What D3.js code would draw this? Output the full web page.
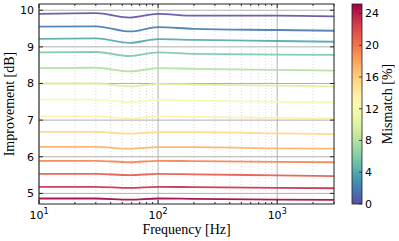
<!DOCTYPE html>
<html>
<head>
<meta charset="utf-8">
<script src="https://cdn.jsdelivr.net/npm/d3@7"></script>
<style>
  body { margin: 0; background: #fff; }
  svg { display: block; }
  .tick-label { font-family: "DejaVu Sans", sans-serif; font-size: 11px; fill: #000; }
  .axis-label { font-family: "Liberation Serif", "DejaVu Serif", serif; font-size: 14px; fill: #000; }
</style>
</head>
<body>
<div id="chart"></div>
<script>
// Data
let freqs = [10, 30, 58, 100, 200, 1000, 3000];
let mismatch = [0, 1.9, 3.9, 5.8, 7.8, 9.7, 11.6, 13.6, 15.5, 17.4, 19.4, 21.3, 23.3, 25.2];
let improvement = [
  [9.90, 9.92, 9.80, 9.90, 9.85, 9.85, 9.83],
  [9.55, 9.56, 9.42, 9.54, 9.49, 9.46, 9.44],
  [9.22, 9.23, 9.11, 9.21, 9.19, 9.16, 9.14],
  [8.85, 8.86, 8.75, 8.85, 8.81, 8.79, 8.78],
  [8.42, 8.43, 8.33, 8.42, 8.40, 8.37, 8.35],
  [8.00, 8.00, 7.92, 7.99, 7.97, 7.94, 7.92],
  [7.56, 7.56, 7.49, 7.55, 7.53, 7.50, 7.49],
  [7.10, 7.10, 7.05, 7.10, 7.09, 7.06, 7.05],
  [6.68, 6.68, 6.63, 6.67, 6.67, 6.64, 6.62],
  [6.27, 6.27, 6.22, 6.26, 6.26, 6.23, 6.22],
  [5.89, 5.89, 5.85, 5.89, 5.88, 5.86, 5.85],
  [5.53, 5.53, 5.50, 5.53, 5.52, 5.49, 5.47],
  [5.18, 5.18, 5.15, 5.18, 5.17, 5.15, 5.14],
  [4.86, 4.86, 4.83, 4.86, 4.85, 4.83, 4.82]
];
let yTicks = [5, 6, 7, 8, 9, 10];
let xTicks = [10, 100, 1000];
let cbTicks = [0, 4, 8, 12, 16, 20, 24];

// SVG setup
let svgWidth = 399;
let svgHeight = 241;
let margin = { top: 4, left: 39 };
let width = 295;
let height = 200;

let svg = d3.select('#chart').append('svg')
  .attr('width', svgWidth)
  .attr('height', svgHeight);

let g = svg.append('g')
  .attr('transform', `translate(${margin.left}, ${margin.top})`);

// scales
let x = d3.scaleLog().domain([10, 3000]).range([0, width]);
let y = d3.scaleLinear().domain([4.71, 10.17]).range([height, 0]);
let cScale = d3.scaleLinear().domain([0, 25.2]).range([height, 0]);
let color = m => d3.interpolateSpectral(1 - m / 25.2);

// minor x positions
let minorX = [];
[10, 100, 1000].forEach(dec => {
  for (let k = 2; k <= 9; k++) {
    if (dec * k <= 3000) minorX.push(dec * k);
  }
});

// grid
g.selectAll('.minor-grid')
  .data(minorX)
  .enter().append('line')
  .attr('x1', d => x(d)).attr('x2', d => x(d))
  .attr('y1', 0).attr('y2', height)
  .attr('stroke', '#c8c8c8')
  .attr('stroke-width', 0.7)
  .attr('stroke-dasharray', '1,2');

g.selectAll('.major-xgrid')
  .data(xTicks)
  .enter().append('line')
  .attr('x1', d => x(d)).attr('x2', d => x(d))
  .attr('y1', 0).attr('y2', height)
  .attr('stroke', '#b0b0b0')
  .attr('stroke-width', 1);

g.selectAll('.major-ygrid')
  .data(yTicks)
  .enter().append('line')
  .attr('x1', 0).attr('x2', width)
  .attr('y1', d => y(d)).attr('y2', d => y(d))
  .attr('stroke', '#b0b0b0')
  .attr('stroke-width', 1);

// lines
let line = d3.line()
  .x((d, i) => x(freqs[i]))
  .y(d => y(d))
  .curve(d3.curveMonotoneX);

g.selectAll('.series')
  .data(improvement)
  .enter().append('path')
  .attr('d', d => line(d))
  .attr('fill', 'none')
  .attr('stroke', (d, i) => color(mismatch[i]))
  .attr('stroke-width', 1.8)
  .attr('opacity', 0.9);

// ticks (inward, all sides)
let tickGroup = g.append('g').attr('stroke', '#000').attr('stroke-width', 0.8);
xTicks.forEach(t => {
  tickGroup.append('line').attr('x1', x(t)).attr('x2', x(t)).attr('y1', height).attr('y2', height - 4);
  tickGroup.append('line').attr('x1', x(t)).attr('x2', x(t)).attr('y1', 0).attr('y2', 4);
});
minorX.forEach(t => {
  tickGroup.append('line').attr('x1', x(t)).attr('x2', x(t)).attr('y1', height).attr('y2', height - 2);
  tickGroup.append('line').attr('x1', x(t)).attr('x2', x(t)).attr('y1', 0).attr('y2', 2);
});
yTicks.forEach(t => {
  tickGroup.append('line').attr('x1', 0).attr('x2', 4).attr('y1', y(t)).attr('y2', y(t));
  tickGroup.append('line').attr('x1', width).attr('x2', width - 4).attr('y1', y(t)).attr('y2', y(t));
});

// frame
g.append('rect')
  .attr('width', width).attr('height', height)
  .attr('fill', 'none')
  .attr('stroke', '#222')
  .attr('stroke-width', 1);

// tick labels
g.selectAll('.ylab')
  .data(yTicks)
  .enter().append('text')
  .attr('class', 'tick-label')
  .attr('x', -5)
  .attr('y', d => y(d))
  .attr('dy', '0.36em')
  .attr('text-anchor', 'end')
  .text(d => d);

let xl = g.selectAll('.xlab')
  .data(xTicks)
  .enter().append('text')
  .attr('class', 'tick-label')
  .attr('x', d => x(d))
  .attr('y', height + 15)
  .attr('text-anchor', 'middle');
xl.append('tspan').text('10');
xl.append('tspan').attr('dy', -5).attr('font-size', '8px').text(d => Math.round(Math.log10(d)));

// axis labels
svg.append('text')
  .attr('class', 'axis-label')
  .attr('x', margin.left + width / 2)
  .attr('y', 234)
  .attr('text-anchor', 'middle')
  .text('Frequency [Hz]');

svg.append('text')
  .attr('class', 'axis-label')
  .attr('transform', `translate(14, ${margin.top + height / 2}) rotate(-90)`)
  .attr('text-anchor', 'middle')
  .text('Improvement [dB]');

// colorbar
let cbX = 352;
let cbW = 10;
let defs = svg.append('defs');
let grad = defs.append('linearGradient')
  .attr('id', 'cbgrad')
  .attr('x1', 0).attr('y1', 1).attr('x2', 0).attr('y2', 0);
d3.range(0, 1.0001, 0.05).forEach(t => {
  grad.append('stop')
    .attr('offset', t)
    .attr('stop-color', d3.interpolateSpectral(1 - t));
});

let cb = svg.append('g').attr('transform', `translate(${cbX}, ${margin.top})`);
cb.append('rect')
  .attr('width', cbW).attr('height', height)
  .attr('fill', 'url(#cbgrad)')
  .attr('stroke', '#222')
  .attr('stroke-width', 0.8);

cb.selectAll('.cbtick')
  .data(cbTicks)
  .enter().append('line')
  .attr('x1', cbW).attr('x2', cbW - 3)
  .attr('y1', d => cScale(d)).attr('y2', d => cScale(d))
  .attr('stroke', '#222')
  .attr('stroke-width', 0.8);

cb.selectAll('.cblab')
  .data(cbTicks)
  .enter().append('text')
  .attr('class', 'tick-label')
  .attr('x', cbW + 3)
  .attr('y', d => cScale(d))
  .attr('dy', '0.36em')
  .text(d => d);

svg.append('text')
  .attr('class', 'axis-label')
  .attr('transform', `translate(392, ${margin.top + height / 2}) rotate(-90)`)
  .attr('text-anchor', 'middle')
  .text('Mismatch [%]');
</script>
</body>
</html>
